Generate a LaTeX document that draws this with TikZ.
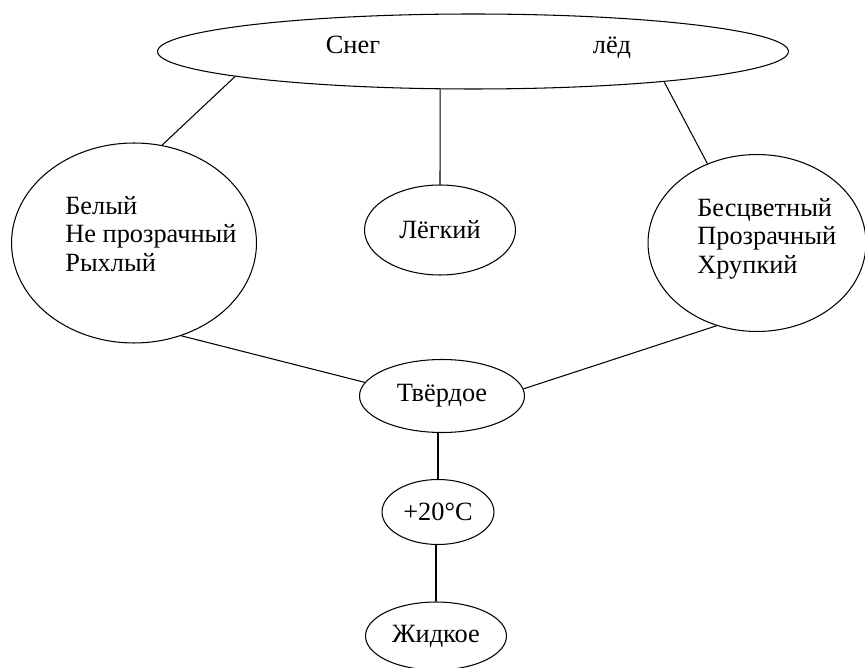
\documentclass[tikz,border=0pt]{standalone}
\usepackage{fontspec}
\setmainfont{Liberation Serif}
\newfontfamily\romanru{Liberation Serif}
\usetikzlibrary{shapes.geometric}

\begin{document}
\begin{tikzpicture}[x=0.02cm,y=-0.02cm,
        oval/.style={draw,ellipse,line width=.6pt,inner sep=0pt,font=\romanru\fontsize{15}{16.2}\selectfont},
        words/.style={inner sep=0pt,align=left,font=\romanru\fontsize{15}{16.2}\selectfont},
        link/.style={line width=.6pt}]
        \useasboundingbox (0,0) rectangle (865,668);
        \node[oval,minimum width=12.62cm,minimum height=1.5cm] (top) at (473,51.5) {};
        \node[words,anchor=base] (snow) at (353,54) {Снег};
        \node[words,anchor=base] (ice) at (612,54) {лёд};
        \node[oval,minimum width=4.9cm,minimum height=4cm] (snowprops) at (134,243) {};
        \node[words,anchor=north west] (snowlist) at (65,196) {Белый\\Не прозрачный\\Рыхлый};
        \node[oval,minimum width=3.02cm,minimum height=1.8cm] (light) at (440,230) {Лёгкий};
        \node[oval,minimum width=4.36cm,minimum height=3.54cm] (iceprops) at (757,243) {};
        \node[words,anchor=north west] (icelist) at (697,198) {Бесцветный\\Прозрачный\\Хрупкий};
        \node[oval,minimum width=3.3cm,minimum height=1.46cm] (solid) at (442,396) {Твёрдое};
        \node[oval,minimum width=2.24cm,minimum height=1.3cm] (warm) at (438,512) {+20°C};
        \node[oval,minimum width=2.82cm,minimum height=1.36cm] (liquid) at (436,636) {Жидкое};
        \draw[link] (top.186) -- (snowprops.74);
        \draw[link] (top.229) -- (light.north);
        \draw[link] (top.351) -- (iceprops.122);
        \draw[link] (snowprops.297) -- (solid.170);
        \draw[link] (iceprops.244) -- (solid.5);
        \draw[link] (warm.north |- solid.south) -- (warm.north);
        \draw[link] (liquid.north |- warm.south) -- (liquid.north);
    \end{tikzpicture}
\end{document}
